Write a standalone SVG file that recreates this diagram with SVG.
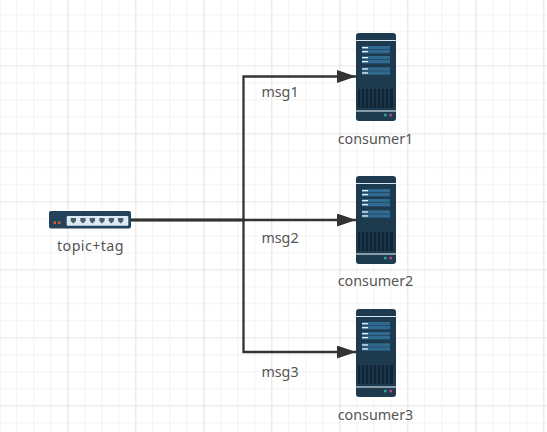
<svg xmlns="http://www.w3.org/2000/svg" width="547" height="432" viewBox="0 0 547 432">
<style>
text{font-family:"Noto Sans","Open Sans",sans-serif;font-size:14.300px;fill:#555;text-anchor:middle}
.c{fill:none;stroke:#333;stroke-width:2.300}
.r{fill:#2f6a90}
.w{fill:#e4eef4}
</style>
<defs>
<pattern id="g" width="17" height="17" patternUnits="userSpaceOnUse" x="0.3" y="-1.7"><path d="M17 0V17M0 17H17" fill="none" stroke="#e9e9e9" stroke-width="1.200"/></pattern>
<pattern id="G" width="68" height="68" patternUnits="userSpaceOnUse" x="0.3" y="-1.7"><path d="M68 0V68M0 68H68" fill="none" stroke="#dcdcdc" stroke-width="1.200"/></pattern>
<marker id="a" markerUnits="userSpaceOnUse" markerWidth="20" markerHeight="15" refX="19" refY="6.500" orient="auto"><path d="M0 0L19 6.500L0 13Z" fill="#333"/></marker>
<g id="srv">
<rect width="40" height="88" rx="3" fill="#1e3a4f"/>
<rect y="7" width="40" height="1" fill="#dbe7ee"/>
<rect class="r" x="6" y="13" width="28" height="3.400"/><rect class="r" x="6" y="17" width="28" height="3.400"/>
<rect class="r" x="6" y="23" width="28" height="3.400"/><rect class="r" x="6" y="27" width="28" height="3.400"/>
<rect class="r" x="6" y="34.300" width="28" height="3.400"/><rect class="r" x="6" y="38.300" width="28" height="3.400"/>
<rect class="w" x="6" y="14" width="6" height="1.300"/><rect class="w" x="6" y="18" width="6" height="1.300"/><rect class="w" x="6" y="24" width="6" height="1.300"/><rect class="w" x="6" y="28" width="6" height="1.300"/><rect class="w" x="6" y="35.300" width="6" height="1.300"/><rect class="w" x="6" y="39.300" width="6" height="1.300"/>
<rect x="2" y="56" width="35" height="19" fill="#0f2434"/>
<path d="M5 56V75M9 56V75M13 56V75M17 56V75M21 56V75M25 56V75M29 56V75M33 56V75" stroke="#2a4659" stroke-width="1"/>
<rect y="77" width="40" height="2" fill="#8a9aa5"/>
<circle cx="29.300" cy="82" r="1.500" fill="#2fa58f"/><circle cx="34.700" cy="82" r="1.500" fill="#c0408a"/>
</g>
</defs>
<rect width="547" height="432" fill="#fff"/>
<rect width="547" height="432" fill="url(#g)"/>
<rect width="547" height="432" fill="url(#G)"/>
<g id="connectors">
<path class="c" d="M131 220H356" marker-end="url(#a)"/>
<path class="c" d="M131 220H243.500V76.500H356" marker-end="url(#a)"/>
<path class="c" d="M131 220H243.500V352H356" marker-end="url(#a)"/>
</g>
<g id="router">
<rect x="49" y="211" width="82" height="17.500" rx="2" fill="#23435c"/>
<rect x="66.700" y="216" width="61.600" height="9.700" rx="1" fill="#dceaf4"/>
<path fill="#4a5d6b" d="M70.700 218h5.300v3l-2.650 2.400l-2.650-2.400zM80.300 218h5.300v3l-2.650 2.400l-2.650-2.400zM89.700 218h5.300v3l-2.650 2.400l-2.650-2.400zM99.300 218h5.300v3l-2.650 2.400l-2.650-2.400zM108.700 218h5.300v3l-2.650 2.400l-2.650-2.400zM118 218h5.300v3l-2.650 2.400l-2.650-2.400z"/>
<rect x="53.500" y="221.500" width="2.500" height="2.500" fill="#d8622a"/><rect x="58" y="221.500" width="2.500" height="2.500" fill="#d8622a"/>
<text x="90.500" y="251" letter-spacing="0.400">topic+tag</text>
</g>
<g id="consumer1"><use href="#srv" x="356" y="33"/><text x="375.500" y="144">consumer1</text></g>
<g id="consumer2"><use href="#srv" x="356" y="176"/><text x="375.500" y="286">consumer2</text></g>
<g id="consumer3"><use href="#srv" x="356" y="309"/><text x="375.500" y="420">consumer3</text></g>
<text x="280" y="97">msg1</text>
<text x="280" y="243">msg2</text>
<text x="280" y="377">msg3</text>
</svg>
